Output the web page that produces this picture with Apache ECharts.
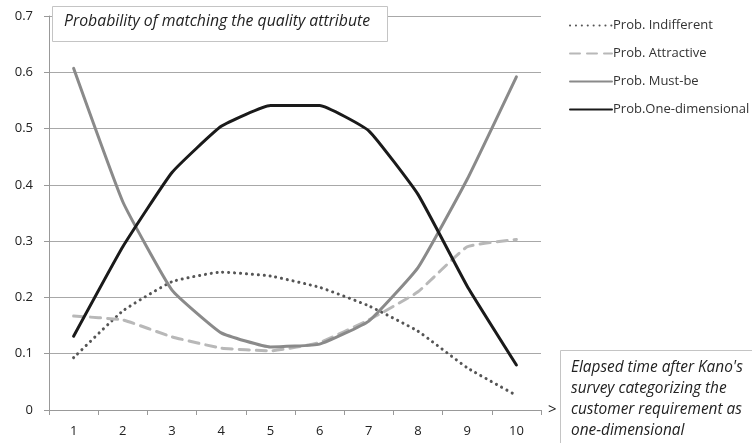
<!DOCTYPE html>
<html><head><meta charset="utf-8">
<script src="https://cdn.jsdelivr.net/npm/echarts@6/dist/echarts.min.js"></script>
<style>html,body{margin:0;padding:0;background:#fff}#c{width:752px;height:443px}</style>
</head><body><div id="c"></div>
<script>
const categories = ['1','2','3','4','5','6','7','8','9','10'];
const indifferent = [0.093,0.176,0.228,0.245,0.238,0.218,0.185,0.140,0.075,0.026];
const attractive  = [0.167,0.160,0.130,0.110,0.105,0.120,0.160,0.210,0.290,0.303];
const mustBe      = [0.607,0.370,0.213,0.137,0.112,0.117,0.158,0.253,0.410,0.592];
const oneDim      = [0.131,0.290,0.422,0.504,0.541,0.541,0.496,0.383,0.220,0.080];
const yTicks = [0,0.1,0.2,0.3,0.4,0.5,0.6,0.7];
const seriesNames = ['Prob. Indifferent','Prob. Attractive','Prob. Must-be','Prob.One-dimensional'];
const titleText = 'Probability of matching the quality attribute';
const noteLines = ["Elapsed time after Kano's","survey categorizing the","customer requirement as","one-dimensional"];

const FONT = '"Open Sans", Lato, sans-serif';
const chart = echarts.init(document.getElementById('c'), null, {renderer:'canvas'});
function mk(name, data, color, width, type){
  return {name, type:'line', data, smooth:0.12, symbol:'none',
    lineStyle:{color, width, type, cap:'round'}, itemStyle:{color}, z:3};
}
chart.setOption({
  animation:false,
  grid:{left:49, right:211, top:16, bottom:33},
  legend:{orient:'vertical', left:564, top:14, itemWidth:42, itemHeight:14, itemGap:15,
    itemStyle:{opacity:0, borderWidth:0},
    textStyle:{fontFamily:FONT, fontSize:13, color:'#333', padding:[0,0,0,-4]}, data:seriesNames},
  xAxis:{type:'category', data:categories, boundaryGap:true,
    axisLine:{lineStyle:{color:'#999', width:1}},
    axisTick:{show:true, length:5, lineStyle:{color:'#999'}},
    axisLabel:{fontFamily:FONT, fontSize:13, color:'#222', margin:15}},
  yAxis:{type:'value', min:yTicks[0], max:yTicks[yTicks.length-1], interval:0.1,
    axisLine:{show:true, lineStyle:{color:'#999', width:1}},
    axisTick:{show:true, length:5, lineStyle:{color:'#999'}},
    splitLine:{lineStyle:{color:'#a8a8a8', width:1}},
    axisLabel:{fontFamily:FONT, fontSize:13, color:'#222', margin:16,
      formatter:v=>String(Math.round(v*10)/10)}},
  series:[
    mk(seriesNames[0], indifferent, '#555555', 3, [0.1,5.8]),
    mk(seriesNames[1], attractive, '#b8b8b8', 3, [10,7]),
    mk(seriesNames[2], mustBe, '#8a8a8a', 3, 'solid'),
    mk(seriesNames[3], oneDim, '#1a1a1a', 3, 'solid')
  ],
  graphic:[
    {type:'rect', left:52, top:6, z:10, shape:{width:335, height:35},
      style:{fill:'#fff', stroke:'#c4c4c4', lineWidth:1}},
    {type:'text', left:64, top:13, z:11,
      style:{text:titleText, font:'italic 15.8px '+FONT, fill:'#222'}},
    {type:'rect', left:560, top:350, z:10, shape:{width:200, height:100},
      style:{fill:'#fff', stroke:'#c4c4c4', lineWidth:1}},
    {type:'text', left:571, top:357, z:11,
      style:{text:noteLines.join('\n'), font:'italic 15.4px '+FONT, lineHeight:21, fill:'#222'}},
    {type:'text', left:548, top:402, z:11,
      style:{text:'>', font:'15px '+FONT, fill:'#222'}}
  ]
});
</script></body></html>
